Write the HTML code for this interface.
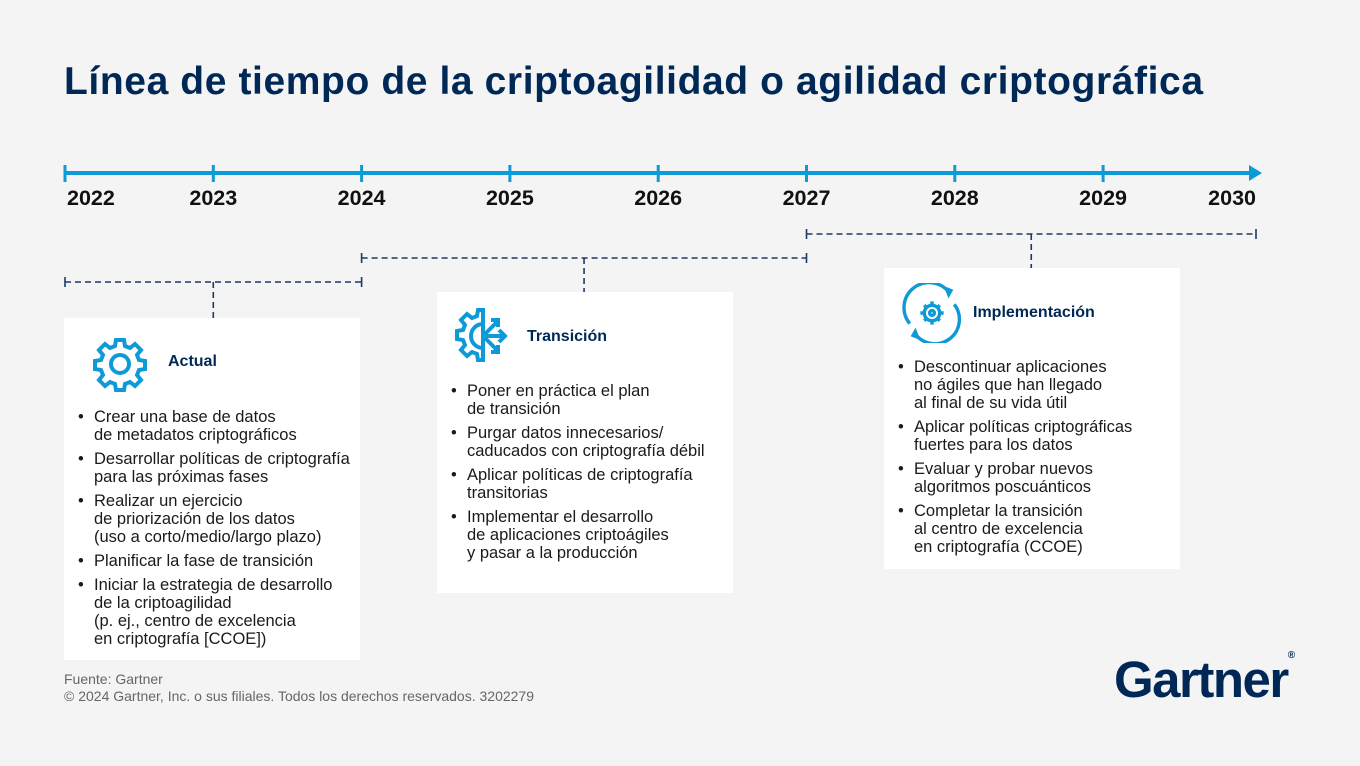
<!DOCTYPE html>
<html><head><meta charset="utf-8">
<style>
*{margin:0;padding:0;box-sizing:border-box}
body{width:1360px;height:766px;background:#f4f4f4;font-family:"Liberation Sans",sans-serif;position:relative;overflow:hidden}
.title{position:absolute;left:64px;top:60px;font-size:39px;font-weight:bold;color:#002856;letter-spacing:0.6px;white-space:nowrap}
.card{position:absolute;background:#fff}
.card h3{position:absolute;font-size:16px;font-weight:bold;color:#002856}
.card ul{position:absolute;list-style:none;font-size:16.5px;line-height:18px;color:#1a1a1a;white-space:nowrap}
.card li{position:relative;padding-left:18px;margin-bottom:6px}
.card li:before{content:"•";position:absolute;left:2px;top:0}
.foot{position:absolute;left:64px;top:671px;font-size:14px;line-height:17px;color:#666}
.logo{position:absolute;left:1114px;top:650px;font-size:51px;font-weight:bold;color:#002856;letter-spacing:-1.5px}
</style></head><body>
<div class="title">Línea de tiempo de la criptoagilidad o agilidad criptográfica</div>
<svg id="tl" width="1360" height="330" style="position:absolute;left:0;top:0"></svg>

<div class="card" style="left:64px;top:318px;width:296px;height:342px">
<svg width="60" height="60" style="position:absolute;left:26px;top:16px" viewBox="0 0 60 60">
<g fill="none" stroke="#0d9ad6" stroke-width="4"><circle cx="30" cy="30" r="9"/>
<path d="M26 6h8l1 6 5 2 5-4 6 6-4 5 2 5 6 1v8l-6 1-2 5 4 5-6 6-5-4-5 2-1 6h-8l-1-6-5-2-5 4-6-6 4-5-2-5-6-1v-8l6-1 2-5-4-5 6-6 5 4 5-2z"/></g></svg>
<h3 style="left:104px;top:35px">Actual</h3>
<ul style="left:12px;top:90px;width:284px">
<li>Crear una base de datos<br>de metadatos criptográficos</li>
<li>Desarrollar políticas de criptografía<br>para las próximas fases</li>
<li>Realizar un ejercicio<br>de priorización de los datos<br>(uso a corto/medio/largo plazo)</li>
<li>Planificar la fase de transición</li>
<li>Iniciar la estrategia de desarrollo<br>de la criptoagilidad<br>(p. ej., centro de excelencia<br>en criptografía [CCOE])</li>
</ul></div>

<div class="card" style="left:437px;top:292px;width:296px;height:301px">
<svg width="64" height="60" style="position:absolute;left:16px;top:14px" viewBox="0 0 64 60">
<g fill="none" stroke="#0d9ad6" stroke-width="4"><path d="M30 18a12 12 0 0 0 0 24M30 4h-5l-1 6-5 2-5-4-6 6 4 5-2 5-6 1v8l6 1 2 5-4 5 6 6 5-4 5 2 1 6h5z"/>
<path d="M30 30h22M46 24l6 6-6 6M30 30l14-14M38 14h7v7M30 30l14 14M38 46h7v-7"/></g></svg>
<h3 style="left:90px;top:36px">Transición</h3>
<ul style="left:12px;top:90px;width:284px">
<li>Poner en práctica el plan<br>de transición</li>
<li>Purgar datos innecesarios/<br>caducados con criptografía débil</li>
<li>Aplicar políticas de criptografía<br>transitorias</li>
<li>Implementar el desarrollo<br>de aplicaciones criptoágiles<br>y pasar a la producción</li>
</ul></div>

<div class="card" style="left:884px;top:268px;width:296px;height:301px">
<svg width="60" height="60" style="position:absolute;left:18px;top:15px" viewBox="0 0 62 62">
<g fill="none" stroke="#0d9ad6" stroke-width="3.5"><path d="M8 42A25 25 0 0 1 48 9M54 22A25 25 0 0 1 14 53"/><circle cx="31" cy="31" r="8"/><circle cx="31" cy="31" r="2.5"/>
<path d="M31 19v4M31 39v4M19 31h4M39 31h4M23 23l3 3M36 36l3 3M39 23l-3 3M23 39l3-3"/></g>
<path d="M43 3l10 4-5 9z M19 59l-10-4 5-9z" fill="#0d9ad6"/></svg>
<h3 style="left:89px;top:36px">Implementación</h3>
<ul style="left:12px;top:90px;width:284px">
<li>Descontinuar aplicaciones<br>no ágiles que han llegado<br>al final de su vida útil</li>
<li>Aplicar políticas criptográficas<br>fuertes para los datos</li>
<li>Evaluar y probar nuevos<br>algoritmos poscuánticos</li>
<li>Completar la transición<br>al centro de excelencia<br>en criptografía (CCOE)</li>
</ul></div>

<div class="foot">Fuente: Gartner<br>© 2024 Gartner, Inc. o sus filiales. Todos los derechos reservados. 3202279</div>
<div class="logo">Gartner<span style="font-size:10px;vertical-align:top">®</span></div>

<script>
const years=[2022,2023,2024,2025,2026,2027,2028,2029,2030];
const phaseNames=["actual","transicion","implementacion"];
const phaseStart=[2022,2024,2027];
const phaseEnd=[2024,2027,2030];
const svg=document.getElementById('tl');
const NS="http://www.w3.org/2000/svg";
const x0=65,step=148.3,axisEnd=1256;
function X(y){return Math.min(axisEnd,x0+(y-years[0])*step);}
function XB(y){return y===years[years.length-1]?axisEnd:X(y);}
function el(t,a){const e=document.createElementNS(NS,t);for(const k in a)e.setAttribute(k,a[k]);svg.appendChild(e);return e;}
const ax=el('line',{x1:x0,y1:173,x2:1252,y2:173,stroke:'#0d9ad6','stroke-width':4});


const ar=el('polygon',{points:'1249,165 1262,173 1249,181',fill:'#0d9ad6'});


years.forEach((y,i)=>{
 const last=i==years.length-1;
 const x=last?axisEnd:X(y);
 if(!last){const t=el('line',{x1:x,y1:165,x2:x,y2:182,stroke:'#0d9ad6','stroke-width':3});
 
 }
 const anchor=i==0?'start':(last?'end':'middle');
 const tx=el('text',{x:i==0?x+2:x,y:205,'text-anchor':anchor,'font-size':21.5,'font-weight':'bold',fill:'#111','font-family':'Liberation Sans, sans-serif'});
 tx.textContent=y;
 
 
});
const bY=[282,258,234],stemEnd=[318,292,268];
phaseNames.forEach((n,i)=>{
 const a=XB(phaseStart[i]),b=XB(phaseEnd[i]),m=(a+b)/2;
 const g=el('g',{stroke:'#1c3a66','stroke-width':1.6});
 
 
 const mk=(t,at)=>{const e=document.createElementNS(NS,t);for(const k in at)e.setAttribute(k,at[k]);g.appendChild(e);};
 mk('line',{x1:a,y1:bY[i],x2:b,y2:bY[i],'stroke-dasharray':'6,4'});
 mk('line',{x1:a,y1:bY[i]-5,x2:a,y2:bY[i]+5});
 mk('line',{x1:b,y1:bY[i]-5,x2:b,y2:bY[i]+5});
 mk('line',{x1:m,y1:bY[i],x2:m,y2:stemEnd[i],'stroke-dasharray':'6,4'});
});
</script>
</body></html>
